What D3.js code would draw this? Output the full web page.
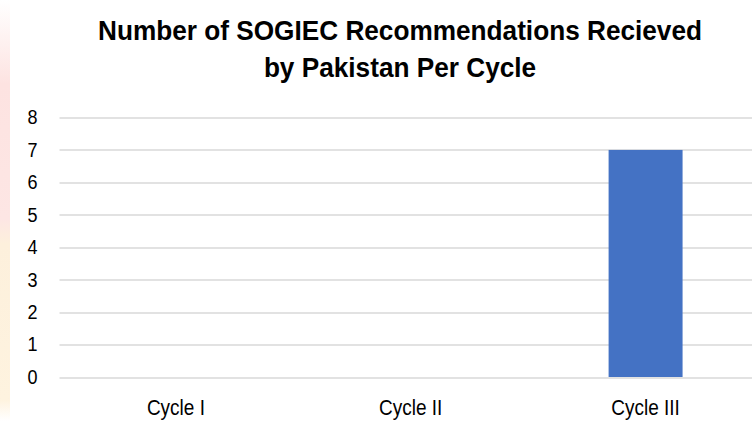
<!DOCTYPE html>
<html>
<head>
<meta charset="utf-8">
<script src="https://cdn.jsdelivr.net/npm/d3@7"></script>
<style>
  body { margin: 0; background: #fff; }
  svg text { font-family: "Liberation Sans", Arial, sans-serif; }
</style>
</head>
<body>
<div id="chart"></div>
<script>
var titleLines = ["Number of SOGIEC Recommendations Recieved", "by Pakistan Per Cycle"];
var cycles = ["Cycle I", "Cycle II", "Cycle III"];
var counts = [0, 0, 7];
var yTicks = [0, 1, 2, 3, 4, 5, 6, 7, 8];

var W = 752, H = 421;
var margin = {top: 117.5, right: -11, bottom: 44, left: 58.5},
    width = W - margin.left - margin.right,
    height = H - margin.top - margin.bottom;

var svg = d3.select("#chart").append("svg")
    .attr("width", W)
    .attr("height", H);

// squeeze text horizontally to mimic a narrow face
function condense(sel, k) {
    sel.each(function() {
        var w = this.getComputedTextLength();
        d3.select(this).attr("textLength", w * k).attr("lengthAdjust", "spacingAndGlyphs");
    });
}

// faint decoration strip on the left edge
var defs = svg.append("defs");
var grad = defs.append("linearGradient")
    .attr("id", "edge").attr("x1", 0).attr("x2", 0).attr("y1", 0).attr("y2", 1);
grad.append("stop").attr("offset", "0%").attr("stop-color", "#fff");
grad.append("stop").attr("offset", "20%").attr("stop-color", "#fde3e1");
grad.append("stop").attr("offset", "52%").attr("stop-color", "#fde6e4");
grad.append("stop").attr("offset", "58%").attr("stop-color", "#fdf0dc");
grad.append("stop").attr("offset", "95%").attr("stop-color", "#fef3df");
grad.append("stop").attr("offset", "100%").attr("stop-color", "#fff");
svg.append("rect")
    .attr("x", 0).attr("y", 0)
    .attr("width", 10).attr("height", H)
    .attr("fill", "url(#edge)");

var titles = svg.selectAll(".title")
    .data(titleLines)
    .enter().append("text")
    .attr("class", "title")
    .attr("x", 400)
    .attr("y", function(d, i) { return 40 + i * 37; })
    .attr("text-anchor", "middle")
    .style("font-size", "28px")
    .style("font-weight", "bold")
    .attr("fill", "#000")
    .text(function(d) { return d; });
var k = 604 / titles.node().getComputedTextLength();
condense(titles, k);

var g = svg.append("g")
    .attr("transform", "translate(" + margin.left + "," + margin.top + ")");

var x = d3.scaleBand().domain(cycles).range([0, width]).paddingInner(0.685).paddingOuter(0.3425);
var y = d3.scaleLinear().domain([0, 8]).range([height, 0]);

// gridlines
g.selectAll(".grid")
    .data(yTicks)
    .enter().append("line")
    .attr("class", "grid")
    .attr("x1", 1).attr("x2", width)
    .attr("y1", function(d) { return Math.round(y(d)) + 0.5; })
    .attr("y2", function(d) { return Math.round(y(d)) + 0.5; })
    .attr("stroke", "#d9d9d9")
    .attr("stroke-width", 1.3);

var yAxis = d3.axisLeft(y).tickValues(yTicks).tickSize(0).tickPadding(21);
var yt = g.append("g")
    .call(yAxis)
    .call(function(a) { a.select(".domain").remove(); })
    .selectAll("text")
    .style("font-size", "20px")
    .attr("fill", "#000");
condense(yt, 0.9);

var xAxis = d3.axisBottom(x).tickSize(0).tickPadding(22);
var xt = g.append("g")
    .attr("transform", "translate(0," + height + ")")
    .call(xAxis)
    .call(function(a) { a.select(".domain").remove(); })
    .selectAll("text")
    .style("font-size", "22px")
    .attr("fill", "#000");
var k2 = 58 / xt.node().getComputedTextLength();
condense(xt, k2);

g.selectAll(".bar")
    .data(counts)
    .enter().append("rect")
    .attr("class", "bar")
    .attr("x", function(d, i) { return x(cycles[i]); })
    .attr("width", x.bandwidth())
    .attr("y", function(d) { return y(d); })
    .attr("height", function(d) { return height - y(d); })
    .attr("fill", "#4472c4");
</script>
</body>
</html>
